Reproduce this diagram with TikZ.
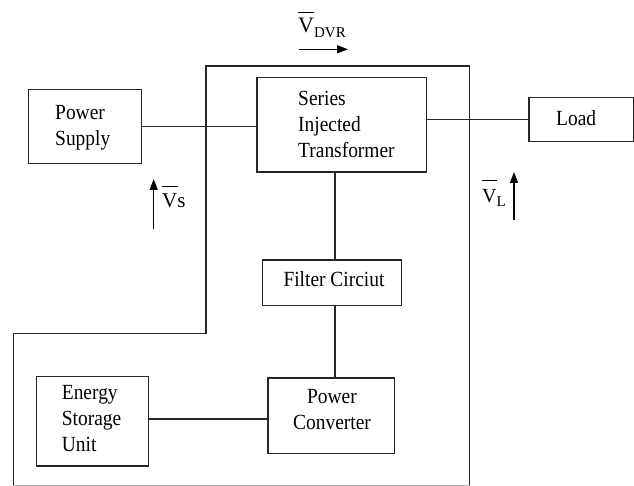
\documentclass[tikz,border=0pt]{standalone}
\usepackage{fontspec}
\setmainfont{Liberation Serif}
\newfontfamily\bodyfont{Liberation Serif}[FakeStretch=0.9]
\usetikzlibrary{arrows.meta}
\newcommand\ovbar[2]{\leavevmode\rlap{\rule[#2]{#1}{0.9pt}}}
\newcommand\leftlines[1]{\vtop{\halign{##\hfil\cr#1\crcr}}}
\newcommand\midlines[1]{\vtop{\halign{\hfil##\hfil\cr#1\crcr}}}
\begin{document}
\begin{tikzpicture}[x=1pt,y=-1pt,
  box/.style={draw=black!85, line width=1.3pt, inner sep=0pt, fill=none},
  txt/.style={inner sep=0pt, font=\bodyfont\fontsize{21.6}{26}\selectfont, text=black},
  wire/.style={draw=black!85, line width=1.25pt},
  arr/.style={draw=black, line width=1.25pt, -{Triangle[length=11pt,width=8pt]}}]
\useasboundingbox (0,0) rectangle (634,486);
\fill[white] (0,0) rectangle (634,486);
% outer DVR outline
\draw[wire] (13.3,485.3) -- (13.3,333.7) -- (206,333.7) -- (206,66) -- (469.7,66) -- (469.7,485.3);
\draw[draw=black!30, line width=1.2pt] (13.3,485.3) -- (469.7,485.3);
% boxes
\node[box, minimum width=113.4pt, minimum height=74.4pt] (ps) at (85,126.5) {};
\node[box, minimum width=169.7pt, minimum height=94.7pt] (sit) at (341.85,124.65) {};
\node[box, minimum width=104.3pt, minimum height=44pt] (load) at (581.15,119.7) {};
\node[box, minimum width=139pt, minimum height=45.3pt] (filt) at (331.8,282.65) {};
\node[box, minimum width=112pt, minimum height=89.3pt] (esu) at (92.3,421.35) {};
\node[box, minimum width=126.7pt, minimum height=75.7pt] (pc) at (331.35,415.85) {};
% texts
\node[txt, anchor=base west] (pst) at (55,120) {\leftlines{Power\cr Supply}};
\node[txt, anchor=base west] (sitt) at (298,106) {\leftlines{Series\cr Injected\cr Transformer}};
\node[txt, anchor=base west] (loadt) at (556,126) {Load};
\node[txt, anchor=base west] (filtt) at (283.3,286.7) {Filter Circiut};
\node[txt, anchor=base west] (esut) at (61.7,399.3) {\leftlines{Energy\cr Storage\cr Unit}};
\node[txt, anchor=base] (pct) at (332,403) {\midlines{Power\cr Converter}};
% connectors
\coordinate (vx) at (335,0);
\coordinate (hy) at (0,419);
\draw[wire] (ps.east) -- (ps.east -| sit.west);
\draw[wire] (sit.east |- load.west) -- (load.west);
\draw[wire] (vx |- sit.south) -- (vx |- filt.north);
\draw[wire] (vx |- filt.south) -- (vx |- pc.north);
\draw[wire] (esu.east |- hy) -- (pc.west |- hy);
% voltage labels
\node[inner sep=0pt, anchor=base west] (vdvr) at (298,33)
  {{\fontsize{22}{22}\selectfont\ovbar{16pt}{20.3pt}V}\raisebox{-5pt}{\fontsize{15}{15}\selectfont DVR}};
\coordinate (d1) at (299,49.3);
\coordinate (d2) at (348,49.3);
\draw[arr] (d1) -- (d2);
\node[inner sep=0pt, anchor=base west] (vs) at (162,208)
  {\fontsize{21}{21}\selectfont\ovbar{16pt}{21.5pt}Vs};
\coordinate (s1) at (153.7,229);
\coordinate (s2) at (153.7,179);
\draw[arr] (s1) -- (s2);
\node[inner sep=0pt, anchor=base west] (vl) at (482,203)
  {{\fontsize{20}{20}\selectfont\ovbar{15pt}{22.5pt}V}\raisebox{-4pt}{\fontsize{15}{15}\selectfont L}};
\coordinate (l1) at (514,220);
\coordinate (l2) at (514,172);
\draw[arr] (l1) -- (l2);
\end{tikzpicture}
\end{document}
